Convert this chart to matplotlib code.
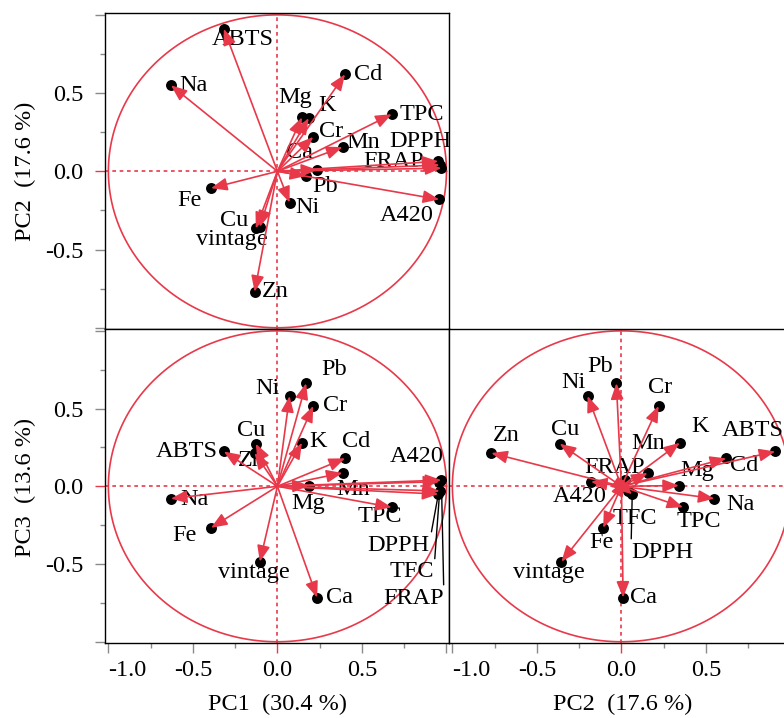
import numpy as np
import matplotlib
matplotlib.use("Agg")
import matplotlib.pyplot as plt

plt.rcParams['font.family'] = ['Liberation Serif', 'DejaVu Serif']
plt.rcParams['axes.unicode_minus'] = False

# ---------------- data (loadings) ----------------
variables = ['ABTS', 'Na', 'Cd', 'Mg', 'K', 'Cr', 'TPC', 'Ca', 'Mn', 'DPPH',
             'FRAP', 'TFC', 'A420', 'Pb', 'Fe', 'Ni', 'Cu', 'vintage', 'Zn']
pc1 = [-0.317, -0.63, 0.40, 0.185, 0.145, 0.212, 0.676, 0.235, 0.385, 0.952,
       0.97, 0.96, 0.957, 0.17, -0.393, 0.072, -0.128, -0.104, -0.135]
pc2 = [0.91, 0.55, 0.62, 0.34, 0.345, 0.22, 0.365, 0.01, 0.155, 0.064,
       0.02, 0.04, -0.18, -0.03, -0.108, -0.20, -0.365, -0.355, -0.77]
pc3 = [0.224, -0.079, 0.18, 0.005, 0.28, 0.517, -0.135, -0.716, 0.086, -0.05,
       0.04, -0.03, 0.03, 0.663, -0.267, 0.581, 0.274, -0.485, 0.214]
axis_titles = ['PC1  (30.4 %)', 'PC2  (17.6 %)', 'PC3  (13.6 %)']
major_ticks = [-1.0, -0.5, 0.0, 0.5, 1.0]
minor_ticks = [-0.75, -0.25, 0.25, 0.75]
x_tick_labels = ['-1.0', '-0.5', '0.0', '0.5', '']
y_tick_labels = ['', '-0.5', '0.0', '0.5', '']

# ---------------- label placement (pixel offsets, style only) ----------------
L = None
offsets_12 = {'ABTS': (19, -11), 'Na': (23, 0), 'Cd': (23, 0), 'Mg': (-14, 21),
              'K': (25, 12), 'Cr': (18, 5), 'TPC': (30, 0), 'Ca': (-18, 17),
              'Mn': (21, 5), 'DPPH': (-18, 20), 'FRAP': (-48, 7), 'TFC': L,
              'A420': (-32, -16), 'Pb': (19, -10), 'Fe': (-22, -12),
              'Ni': (18, -5), 'Cu': (-22, 8), 'vintage': (-28, -13), 'Zn': (21, 0)}
offsets_13 = {'ABTS': (-37, 0), 'Na': (24, -1), 'Cd': (11, 17), 'Mg': (-1, -18),
              'K': (16, 1), 'Cr': (22, 0), 'TPC': (-12, -9), 'Ca': (22, 0),
              'Mn': (11, -17), 'DPPH': (-40, -51, (1.0, 0.6)),
              'FRAP': (-28, -118, (1.0, 1.0)), 'TFC': (-28, -81, (1.0, 0.6)),
              'A420': (-22, 25), 'Pb': (28, 14), 'Fe': (-27, -8), 'Ni': (-22, 7),
              'Cu': (-5, 13), 'vintage': (-6, -11), 'Zn': (-3, -7)}
offsets_23 = {'ABTS': (-22, 21), 'Na': (26, -6), 'Cd': (18, -7), 'Mg': (18, 15),
              'K': (20, 16), 'Cr': (1, 18), 'TPC': (16, -14), 'Ca': (20, 0),
              'Mn': (1, 29), 'DPPH': (30, -58, (0.0, 1.0)), 'FRAP': (-10, 13),
              'TFC': (7, -28), 'A420': (-11, -15), 'Pb': (-16, 17),
              'Fe': (-2, -15), 'Ni': (-14, 13), 'Cu': (5, 14),
              'vintage': (-13, -11), 'Zn': (15, 18)}

RED = '#E8394A'
TICK_GREY = '#8a8a8a'
FS = 17.5

W, H = 784, 718
fig = plt.figure(figsize=(W / 100, H / 100), dpi=100)


def px_axes(x0, y0, x1, y1):
    return fig.add_axes([x0 / W, 1 - y1 / H, (x1 - x0) / W, (y1 - y0) / H])


ax12 = px_axes(105, 13, 449, 329)
ax13 = px_axes(105, 329, 449, 643)
ax23 = px_axes(449, 329, 793, 643)

scores = [pc1, pc2, pc3]
panels = [(ax12, 0, 1, offsets_12), (ax13, 0, 2, offsets_13), (ax23, 1, 2, offsets_23)]

theta = np.linspace(0, 2 * np.pi, 400)

for ax, i, j, offs in panels:
    xs, ys = scores[i], scores[j]
    ax.set_xlim(-1.02, 1.015)
    ax.set_ylim(-1.008, 1.012)
    ax.plot(np.cos(theta), np.sin(theta), color=RED, lw=1.2, zorder=1)
    ax.axhline(0, color=RED, lw=1.2, ls=(0, (2.2, 2.2)), zorder=1)
    ax.axvline(0, color=RED, lw=1.2, ls=(0, (2.2, 2.2)), zorder=1)
    ax.scatter(xs, ys, s=62, color='black', zorder=3, linewidths=0)
    for name, x, y in zip(variables, xs, ys):
        ax.annotate('', xy=(x, y), xytext=(0, 0),
                    arrowprops=dict(arrowstyle='-|>,head_length=0.65,head_width=0.26',
                                    color=RED, lw=1.2, shrinkA=0, shrinkB=0,
                                    mutation_scale=15),
                    zorder=4)
        o = offs.get(name)
        if o is None:
            continue
        kw = {}
        if len(o) == 3:
            kw['arrowprops'] = dict(arrowstyle='-', color='black', lw=1.0,
                                    shrinkA=0, shrinkB=2, relpos=o[2])
        ax.annotate(name, xy=(x, y), xytext=(o[0], o[1]), textcoords='offset pixels',
                    ha='center', va='center', fontsize=FS, clip_on=True, zorder=2, **kw)

    for sp in ax.spines.values():
        sp.set_linewidth(1.0)
        sp.set_color('black')
    ax.set_xticks(major_ticks)
    ax.set_xticks(minor_ticks, minor=True)
    ax.set_yticks(major_ticks)
    ax.set_yticks(minor_ticks, minor=True)
    ax.tick_params(which='both', direction='out', color=TICK_GREY, width=1.0,
                   labelsize=FS, top=False, right=False)
    ax.tick_params(which='major', length=7.5)
    ax.tick_params(which='minor', length=3.8)
    ax.tick_params(axis='x', pad=5)
    ax.tick_params(axis='y', pad=8)
    ax.set_xticklabels(x_tick_labels)
    ax.set_yticklabels(y_tick_labels)
    ax.get_xticklabels()[0].set_ha('left')
    for t in ax.xaxis.get_major_ticks()[2:3] + ax.yaxis.get_major_ticks()[2:3]:
        t.tick1line.set_markeredgecolor(RED)

ax12.tick_params(axis='x', which='both', bottom=False, labelbottom=False)
ax23.tick_params(axis='y', which='both', left=False, labelleft=False)

fig.text(25 / W, 1 - 171 / H, axis_titles[1], rotation=90, ha='center', va='center', fontsize=FS)
fig.text(25 / W, 1 - 487 / H, axis_titles[2], rotation=90, ha='center', va='center', fontsize=FS)
fig.text(278 / W, 1 - 704 / H, axis_titles[0], ha='center', va='center', fontsize=FS)
fig.text(623 / W, 1 - 704 / H, axis_titles[1], ha='center', va='center', fontsize=FS)

fig.savefig('out.png', dpi=100)
